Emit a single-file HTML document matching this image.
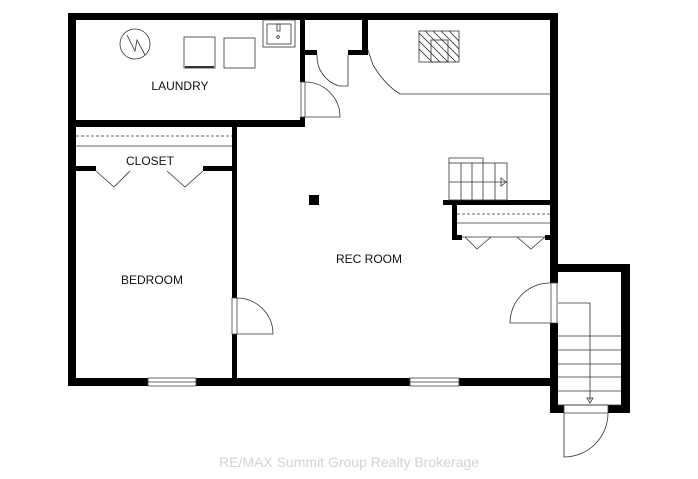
<!DOCTYPE html>
<html><head><meta charset="utf-8"><style>
html,body{margin:0;padding:0;background:#fff;width:698px;height:479px;overflow:hidden}
svg{display:block}
text{font-family:"Liberation Sans",Arial,sans-serif;font-size:12px;fill:#111}
</style></head><body>
<svg width="698" height="479" viewBox="0 0 698 479" xmlns="http://www.w3.org/2000/svg">
<g fill="#000">
<!-- outer -->
<rect x="68" y="13" width="490" height="7"/>
<rect x="68" y="13" width="8" height="373"/>
<rect x="68" y="378" width="490" height="8"/>
<rect x="550" y="13" width="8" height="270"/>
<rect x="550" y="323" width="8" height="90"/>
<!-- stair box -->
<rect x="550" y="264" width="80" height="8"/>
<rect x="621" y="264" width="9" height="149"/>
<rect x="550" y="405" width="14" height="8"/>
<rect x="608" y="405" width="22" height="8"/>
<!-- laundry -->
<rect x="68" y="120" width="237" height="7"/>
<rect x="300" y="13" width="5" height="69"/>
<rect x="300" y="117" width="5" height="10"/>
<!-- small closet -->
<rect x="362" y="13" width="6" height="42"/>
<rect x="300" y="50" width="17" height="5"/>
<rect x="348" y="50" width="20" height="5"/>
<!-- bedroom wall -->
<rect x="232" y="120" width="5" height="178"/>
<rect x="232" y="334" width="5" height="52"/>
<!-- closet bottom -->
<rect x="68" y="166" width="28" height="5"/>
<rect x="203" y="166" width="34" height="5"/>
<!-- stair shelf -->
<rect x="443" y="200" width="115" height="5"/>
<rect x="452" y="200" width="5" height="40"/>
<rect x="452" y="235" width="10" height="5"/>
<rect x="545" y="235" width="8" height="5"/>
<!-- column -->
<rect x="309" y="195" width="10" height="10"/>
</g>
<g fill="#fff" stroke="#444" stroke-width="0.8">
<!-- windows -->
<rect x="148" y="378" width="48" height="8"/>
<rect x="410" y="378" width="49" height="8"/>
<rect x="301" y="82" width="4" height="35"/>
<rect x="232" y="298" width="5" height="36"/>
<rect x="551" y="283" width="6" height="40"/>
<rect x="564" y="405" width="44" height="8"/>
</g>
<g fill="none" stroke="#333" stroke-width="0.8">
<line x1="148" y1="382" x2="196" y2="382"/>
<line x1="410" y1="382" x2="459" y2="382"/>
<!-- doors -->
<path d="M305 117 L340 117 A35 35 0 0 0 305 82"/>
<path d="M348 55 L348 86 L339 86 A31 31 0 0 1 317 55"/>
<path d="M237 334 L273 334 A36 36 0 0 0 237 298"/>
<path d="M551 323 L510 323 A40 40 0 0 1 551 283"/>
<path d="M564 413 L564 457 A44 44 0 0 0 608 413"/>
<!-- curve counter -->
<path d="M368 50 L373 65 Q385 85 400 94 L551 94"/>
<!-- closet lines -->
<line x1="76" y1="136" x2="232" y2="136" stroke-dasharray="3,2"/>
<line x1="76" y1="146" x2="232" y2="146"/>
<path d="M96 171 L114 187 L130 171 M167 171 L185 187 L203 171"/>
<line x1="457" y1="214" x2="550" y2="214" stroke-dasharray="3,2"/>
<line x1="457" y1="223" x2="550" y2="223"/>
<line x1="462" y1="237" x2="545" y2="237"/>
<path d="M465 237 L477 249 L491 237 M517 237 L531 249 L545 237"/>
<!-- stairs up -->
<rect x="449" y="163" width="58" height="37"/>
<path d="M449 163 L449 158 L483 158 L483 163"/>
<path d="M461 163V200 M472 163V200 M483 163V200 M495 163V200 M449 182 H507"/>
<path d="M501 178 L506 182 L501 186 Z"/>
<!-- stairs down -->
<path d="M558 303 L590 303 L590 400"/>
<path d="M587 398 L590 403 L593 398 Z"/>
<path d="M558 336H621 M558 350H621 M558 364H621 M558 377H621 M558 391H621 M558 405H621"/>
<!-- fireplace -->
<rect x="419" y="31" width="40" height="31"/>
<rect x="431" y="40" width="17" height="22"/>
<g clip-path="url(#fc)"><path d="M409 31 L440 62 M417 31 L448 62 M425 31 L456 62 M433 31 L464 62 M441 31 L472 62 M449 31 L480 62 M401 31 L432 62"/></g>
<!-- laundry fixtures -->
<circle cx="135" cy="44" r="15"/>
<path d="M127 35 L135 51 L137 40 L145 55"/>
<rect x="184" y="37" width="31" height="31"/>
<line x1="185" y1="67" x2="214" y2="67" stroke-width="2"/>
<rect x="224" y="38" width="31" height="30"/>
<rect x="263" y="20" width="32" height="27"/>
<rect x="267" y="24" width="24" height="20"/>
<rect x="277" y="24" width="3" height="7"/>
<circle cx="278" cy="37" r="1.3"/>
</g>
<defs><clipPath id="fc"><rect x="419" y="31" width="40" height="31"/></clipPath></defs>
<text x="180" y="90" text-anchor="middle">LAUNDRY</text>
<text x="150" y="165" text-anchor="middle">CLOSET</text>
<text x="152" y="284" text-anchor="middle">BEDROOM</text>
<text x="369" y="263" text-anchor="middle">REC ROOM</text>
<text x="349" y="467" text-anchor="middle" style="fill:#d4d4d4;font-size:14px">RE/MAX Summit Group Realty Brokerage</text>
</svg>
</body></html>
